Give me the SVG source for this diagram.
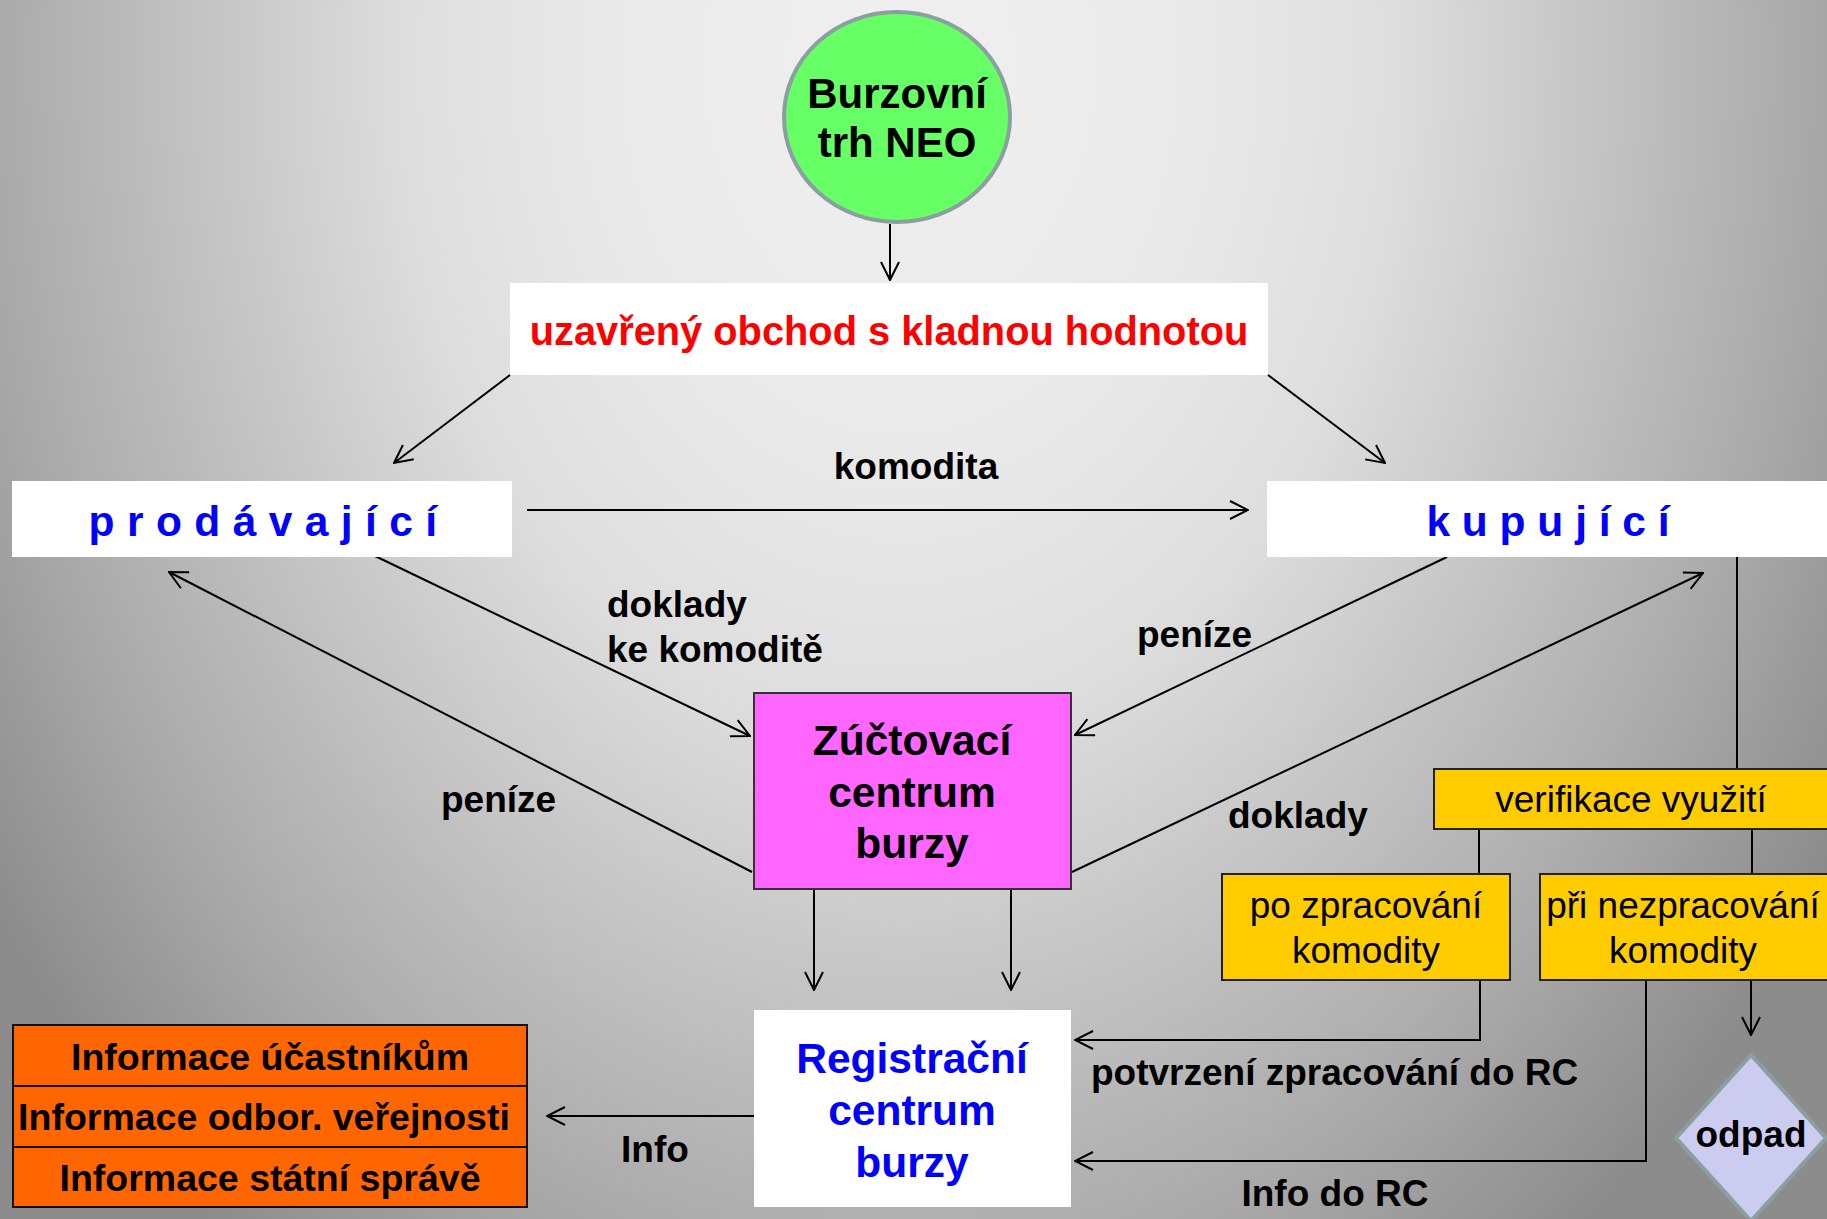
<svg xmlns="http://www.w3.org/2000/svg" width="1827" height="1219" viewBox="0 0 1827 1219">
<defs>
<radialGradient id="bg" gradientUnits="userSpaceOnUse" cx="900" cy="60" r="1100" gradientTransform="translate(900 60) scale(1 1.35) translate(-900 -60)">
<stop offset="0" stop-color="#f0f0f0"/>
<stop offset="0.3" stop-color="#e8e8e8"/>
<stop offset="0.455" stop-color="#dddddd"/>
<stop offset="0.82" stop-color="#aaaaaa"/>
<stop offset="1" stop-color="#8c8c8c"/>
</radialGradient>
<marker id="arr" viewBox="0 0 20 20" refX="19" refY="10" markerWidth="20" markerHeight="20" markerUnits="userSpaceOnUse" orient="auto">
<path d="M1,1 L19,10 L1,19" fill="none" stroke="#000" stroke-width="2"/>
</marker>
<style>
text { font-family: "Liberation Sans", Arial, sans-serif; }
.b { font-weight: bold; }
.lbl { font-weight: bold; font-size: 37px; fill: #000; }
.yl { font-size: 37px; fill: #000; }
.c { text-anchor: middle; }
.ln { stroke: #000; stroke-width: 2; fill: none; }
.ar { marker-end: url(#arr); }
.yb { fill: #ffcc00; stroke: #222; stroke-width: 2; }
.ob { fill: #ff6600; stroke: #111; stroke-width: 2; }
</style>
</defs>
<rect x="0" y="0" width="1827" height="1219" fill="url(#bg)"/>

<g id="connectors">
<line class="ln ar" x1="890" y1="224" x2="890" y2="280"/>
<line class="ln ar" x1="510" y1="375" x2="394" y2="463"/>
<line class="ln ar" x1="1268" y1="375" x2="1385" y2="463"/>
<line class="ln ar" x1="527" y1="510" x2="1248" y2="510"/>
<line class="ln ar" x1="375" y1="556" x2="750" y2="736"/>
<line class="ln ar" x1="752" y1="872" x2="169" y2="572"/>
<line class="ln ar" x1="1447" y1="557" x2="1075" y2="735"/>
<line class="ln ar" x1="1072" y1="872" x2="1703" y2="573"/>
<line class="ln ar" x1="814" y1="889" x2="814" y2="990"/>
<line class="ln ar" x1="1011" y1="889" x2="1011" y2="990"/>
<line class="ln ar" x1="754" y1="1116" x2="547" y2="1116"/>
<line class="ln" x1="1737" y1="557" x2="1737" y2="769"/>
<line class="ln" x1="1479" y1="829" x2="1479" y2="874"/>
<line class="ln" x1="1752" y1="829" x2="1752" y2="874"/>
<polyline class="ln ar" points="1480,980 1480,1040 1075,1040"/>
<polyline class="ln ar" points="1646,980 1646,1161 1075,1161"/>
<line class="ln ar" x1="1751" y1="980" x2="1751" y2="1035"/>
<text class="lbl c" x="916" y="479">komodita</text>
<text class="lbl" x="607" y="617">doklady</text>
<text class="lbl" x="607" y="662">ke komoditě</text>
<text class="lbl" x="441" y="812">peníze</text>
<text class="lbl" x="1137" y="647">peníze</text>
<text class="lbl" x="1228" y="828">doklady</text>
<text class="lbl c" x="655" y="1162">Info</text>
<text class="lbl" x="1091" y="1085">potvrzení zpracování do RC</text>
<text class="lbl c" x="1335" y="1206">Info do RC</text>
</g>

<g id="burzovni-trh">
<ellipse cx="897" cy="117" rx="113" ry="105" fill="#66ff66" stroke="#8aa0a0" stroke-width="4"/>
<text class="b c" x="897" y="108" font-size="42">Burzovní</text>
<text class="b c" x="897" y="157" font-size="42">trh NEO</text>
</g>

<g id="uzavreny-obchod">
<rect x="510" y="283" width="758" height="92" fill="#ffffff"/>
<text class="b c" x="889" y="345" font-size="39.8" fill="#ff0000">uzavřený obchod s kladnou hodnotou</text>
</g>

<g id="prodavajici">
<rect x="12" y="481" width="500" height="76" fill="#ffffff"/>
<text class="b c" x="263" y="536" font-size="42.5" letter-spacing="0.3" fill="#0000ff">p r o d á v a j í c í</text>
</g>

<g id="kupujici">
<rect x="1267" y="481" width="562" height="76" fill="#ffffff"/>
<text class="b c" x="1548" y="536" font-size="42.5" fill="#0000ff">k u p u j í c í</text>
</g>

<g id="zuctovaci-centrum">
<rect x="754" y="693" width="317" height="196" fill="#ff66ff" stroke="#333" stroke-width="2"/>
<text class="b c" x="912" y="755" font-size="42.5">Zúčtovací</text>
<text class="b c" x="912" y="807" font-size="42.5">centrum</text>
<text class="b c" x="912" y="858" font-size="42.5">burzy</text>
</g>

<g id="registracni-centrum">
<rect x="754" y="1010" width="317" height="197" fill="#ffffff"/>
<text class="b c" x="912" y="1073" font-size="42.5" fill="#0000ff">Registrační</text>
<text class="b c" x="912" y="1125" font-size="42.5" fill="#0000ff">centrum</text>
<text class="b c" x="912" y="1177" font-size="42.5" fill="#0000ff">burzy</text>
</g>

<g id="informace">
<rect class="ob" x="13" y="1025" width="514" height="61"/>
<rect class="ob" x="13" y="1086" width="514" height="61"/>
<rect class="ob" x="13" y="1147" width="514" height="60"/>
<text class="b c" x="270" y="1070" font-size="37.5">Informace účastníkům</text>
<text class="b c" x="264" y="1130" font-size="37.5">Informace odbor. veřejnosti</text>
<text class="b c" x="270" y="1191" font-size="37.5">Informace státní správě</text>
</g>

<g id="verifikace">
<rect class="yb" x="1434" y="769" width="400" height="60"/>
<text class="yl c" x="1631" y="812">verifikace využití</text>
</g>

<g id="po-zpracovani">
<rect class="yb" x="1222" y="874" width="288" height="106"/>
<text class="yl c" x="1366" y="918">po zpracování</text>
<text class="yl c" x="1366" y="963">komodity</text>
</g>

<g id="pri-nezpracovani">
<rect class="yb" x="1540" y="874" width="294" height="106"/>
<text class="yl c" x="1683" y="918">při nezpracování</text>
<text class="yl c" x="1683" y="963">komodity</text>
</g>

<g id="odpad">
<polygon points="1751,1055 1826,1138 1751,1221 1676,1138" fill="#ccccf0" stroke="#8aa0a0" stroke-width="4"/>
<text class="lbl c" x="1751" y="1147">odpad</text>
</g>
</svg>
